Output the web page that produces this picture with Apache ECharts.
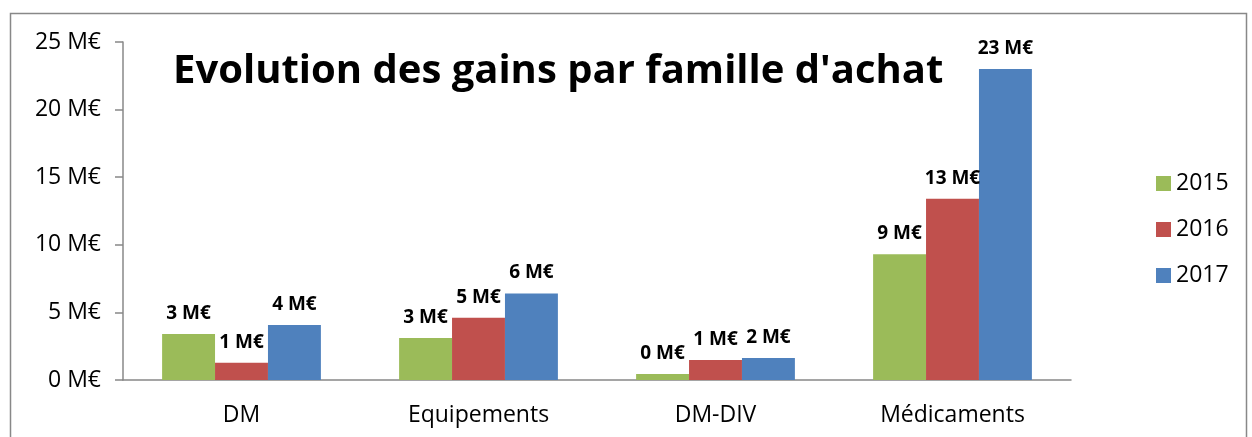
<!DOCTYPE html>
<html><head><meta charset="utf-8">
<script src="https://cdn.jsdelivr.net/npm/echarts@6/dist/echarts.min.js"></script>
<style>html,body{margin:0;padding:0;background:#fff}#c{width:1252px;height:437px}</style>
</head><body><div id="c"></div>
<script>
const categories = ['DM', 'Equipements', 'DM-DIV', 'Médicaments'];
const years = ['2015', '2016', '2017'];
const v2015 = [3.4, 3.1, 0.44, 9.3];
const v2016 = [1.27, 4.6, 1.48, 13.4];
const v2017 = [4.07, 6.4, 1.63, 23.0];
const yTicks = [0, 5, 10, 15, 20, 25];
const colors = ['#9BBB59', '#C0504D', '#4F81BD'];
const font = 'Open Sans, Noto Sans, sans-serif';

const chart = echarts.init(document.getElementById('c'));
const mk = (name, data, i) => ({
  name, type: 'bar', data, barGap: '0%', barCategoryGap: '33%',
  itemStyle: { color: colors[i] },
  label: { show: true, position: 'top', distance: 11, fontFamily: font, fontWeight: 'bold', fontSize: 19, color: '#000',
    formatter: p => Math.round(p.value) + ' M€' }
});
chart.setOption({
  animation: false,
  graphic: [{ type: 'rect', shape: { x: 10.5, y: 13.5, width: 1236, height: 440 }, style: { fill: 'none', stroke: '#888', lineWidth: 1.5 } }],
  title: { text: "Evolution des gains par famille d'achat", left: 168, top: 47,
    textStyle: { fontFamily: font, fontWeight: 'bold', fontSize: 40, color: '#000' } },
  legend: { orient: 'vertical', left: 1151, top: 167, itemWidth: 15, itemHeight: 15, itemGap: 23,
    icon: 'rect', textStyle: { fontFamily: font, fontSize: 23, color: '#000' }, data: years },
  grid: { left: 123, right: 181, top: 42, bottom: 57 },
  xAxis: { type: 'category', data: categories,
    axisLine: { lineStyle: { color: '#888', width: 1.5 } },
    axisTick: { length: 8, lineStyle: { color: '#888', width: 1.5 } },
    axisLabel: { fontFamily: font, fontSize: 23, color: '#000', margin: 24 } },
  yAxis: { type: 'value', min: 0, max: 25, interval: 5,
    axisLine: { show: true, lineStyle: { color: '#888', width: 1.5 } },
    axisTick: { show: true, length: 8, lineStyle: { color: '#888', width: 1.5 } },
    splitLine: { show: false },
    axisLabel: { fontFamily: font, fontSize: 23, color: '#000', margin: 22, formatter: v => v + ' M€' } },
  series: [mk(years[0], v2015, 0), mk(years[1], v2016, 1), mk(years[2], v2017, 2)]
});
</script></body></html>
